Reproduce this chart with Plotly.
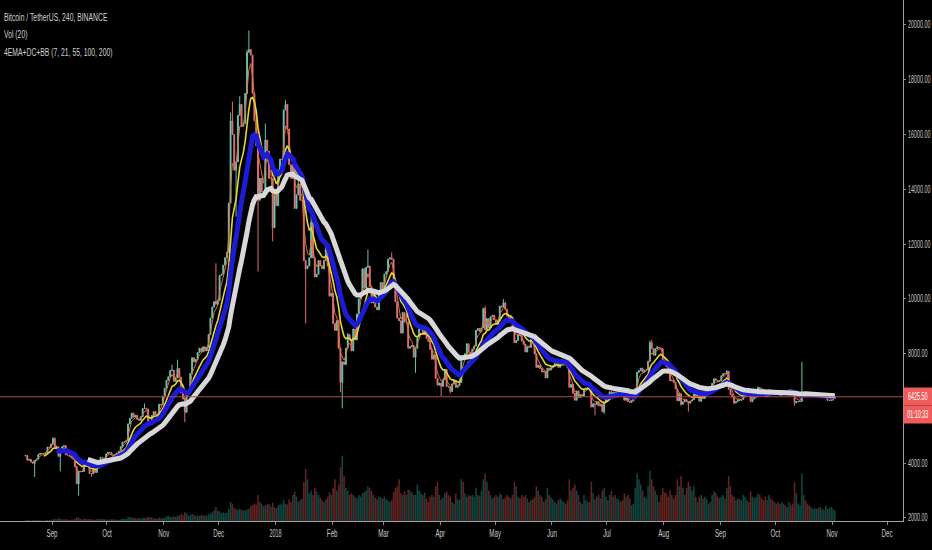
import numpy as np
import pandas as pd
import plotly.graph_objects as go

# ---------------- data (daily) ----------------
start_date = "2017-08-17"

close_2017_08 = [4285, 4108, 4140, 4040, 4000, 4100, 4150, 4320, 4360, 4350, 4340, 4390, 4590, 4580, 4700]
close_2017_09 = [4900, 4580, 4600, 4250, 4410, 4600, 4640, 4300, 4300, 4250, 4200, 4150, 3870, 3250, 3700,
                 3690, 3700, 4090, 3910, 3880, 3620, 3610, 3780, 3660, 3930, 3890, 4210, 4190, 4160, 4340]
close_2017_10 = [4400, 4380, 4300, 4220, 4330, 4370, 4440, 4610, 4770, 4780, 4820, 5430, 5640, 5830, 5680,
                 5750, 5600, 5570, 5700, 6000, 6010, 5980, 5530, 5500, 5740, 5890, 5770, 5740, 6150, 6130, 6450]
close_2017_11 = [6740, 7030, 7160, 7380, 7400, 6990, 7110, 7460, 7140, 6570, 6340, 5860, 6550, 6600, 7280,
                 7850, 7700, 7790, 8040, 8200, 8070, 8250, 8100, 8230, 8700, 9300, 9700, 9900, 9800, 9950]
close_2017_12 = [10850, 10900, 11230, 11500, 11700, 13500, 16500, 16000, 14700, 15000, 16700, 17100, 16300, 16400, 17500,
                 19000, 19100, 18900, 17500, 16500, 15600, 13600, 14400, 13900, 13900, 15800, 15400, 14400, 14400, 12600, 13900]
close_2018_01 = [13400, 14700, 15100, 15100, 16900, 17100, 16200, 14900, 14400, 14900, 13300, 13800, 14200, 13600, 13600,
                 11400, 11100, 11200, 11500, 12800, 11500, 10800, 10900, 11400, 11200, 11100, 11400, 11800, 11200, 10100, 10200]
close_2018_02 = [9100, 8850, 9200, 8200, 6950, 7700, 7600, 8200, 8700, 8500, 8100, 8900, 8500, 9450,
                 10000, 10200, 11100, 10400, 11150, 11200, 10450, 9850, 10150, 9700, 9600, 10300, 10600, 10300]
close_2018_03 = [10900, 11000, 11450, 11500, 11450, 10700, 9900, 9300, 9200, 8750, 9500, 9150, 9150, 8200, 8250,
                 8300, 7870, 8200, 8600, 8900, 8900, 8700, 8900, 8550, 8450, 8150, 7800, 7950, 7100, 6850, 6930]
close_2018_04 = [6810, 7050, 7420, 6800, 6780, 6620, 6900, 7030, 6770, 6830, 6940, 7920, 7890, 8000, 8360,
                 8060, 7890, 8170, 8280, 8850, 8920, 8800, 8940, 9650, 8870, 9280, 8940, 9350, 9400, 9240]
close_2018_05 = [9070, 9220, 9740, 9700, 9860, 9620, 9370, 9180, 9310, 9000, 8400, 8480, 8700, 8670, 8460,
                 8340, 8060, 8240, 8230, 8520, 8400, 7990, 7500, 7580, 7460, 7330, 7350, 7110, 7470, 7400, 7490]
close_2018_06 = [7530, 7640, 7710, 7500, 7630, 7650, 7680, 7620, 7490, 6770, 6880, 6550, 6300, 6640, 6400,
                 6490, 6450, 6710, 6740, 6760, 6720, 6050, 6170, 6150, 6250, 6090, 6150, 5880, 6220, 6390]
close_2018_07 = [6350, 6610, 6510, 6590, 6530, 6600, 6750, 6710, 6660, 6300, 6390, 6250, 6220, 6270, 6360,
                 6740, 7320, 7380, 7470, 7330, 7400, 7400, 7720, 8400, 8180, 7940, 8180, 8230, 8210, 8180, 7730]
close_2018_08 = [7600, 7530, 7410, 7010, 7030, 6940, 6720, 6280, 6540, 6150, 6240, 6320, 6250, 6190, 6270,
                 6310, 6580, 6390, 6490, 6260, 6480, 6360, 6530, 6700, 6720, 6700, 6920, 7080, 7030, 6990, 7010]
close_2018_09 = [7190, 7270, 7260, 7360, 6700, 6510, 6410, 6200, 6250, 6320, 6290, 6330, 6480, 6480, 6520,
                 6500, 6250, 6340, 6390, 6490, 6760, 6720, 6700, 6590, 6430, 6460, 6680, 6630, 6590, 6620]
close_2018_10 = [6590, 6520, 6480, 6580, 6640, 6590, 6620, 6680, 6650, 6590, 6200, 6250, 6250, 6260, 6580,
                 6600, 6580, 6500, 6460, 6460, 6490, 6490, 6500, 6480, 6480, 6480, 6480, 6480, 6290, 6290, 6300]
close_2018_11 = [6370, 6425.5]

first_open = 4261

wick_high = {
    "2017-09-01": 4940, "2017-09-02": 4950, "2017-10-12": 5450, "2017-10-21": 6180, "2017-11-05": 7600,
    "2017-11-08": 7780, "2017-11-29": 11300, "2017-12-07": 16800, "2017-12-08": 17200, "2017-12-12": 17400,
    "2017-12-16": 19100, "2017-12-17": 19800, "2017-12-18": 19100, "2017-12-19": 18900, "2017-12-26": 16400,
    "2018-01-06": 17250, "2018-01-07": 17100, "2018-01-13": 14600, "2018-01-20": 13000, "2018-01-28": 12000,
    "2018-02-09": 8750, "2018-02-20": 11800, "2018-03-05": 11700, "2018-03-13": 9450, "2018-03-20": 9050,
    "2018-04-25": 9750, "2018-05-05": 9990, "2018-06-06": 7800, "2018-07-24": 8480, "2018-07-25": 8500,
    "2018-07-28": 8280, "2018-08-01": 7750, "2018-09-04": 7400, "2018-09-21": 6800, "2018-10-15": 7700,
}
wick_low = {
    "2017-08-22": 3500, "2017-09-05": 3700, "2017-09-15": 2817, "2017-09-22": 3500, "2017-11-12": 5500,
    "2017-12-10": 13000, "2017-12-22": 11000, "2017-12-30": 12100, "2018-01-17": 9100, "2018-02-05": 6600,
    "2018-02-06": 6000, "2018-03-18": 7300, "2018-04-01": 6450, "2018-04-06": 6550, "2018-06-24": 5750,
    "2018-06-29": 5800, "2018-08-10": 6100, "2018-08-14": 5880, "2018-09-08": 6150, "2018-10-11": 6100,
}

vol_2017_08 = [0.8, 1.2, 0.9, 0.7, 1.0, 1.5, 1.1, 1.0, 0.9, 0.6, 0.7, 1.0, 1.4, 1.2, 1.5]
vol_2017_09 = [2.0, 2.5, 1.8, 3.0, 2.5, 2.0, 1.8, 2.6, 1.5, 1.4, 1.6, 1.8, 2.5, 4.5, 4.0, 2.5, 1.8, 2.8, 2.2, 1.9,
               2.4, 2.0, 1.5, 1.4, 2.2, 2.0, 2.6, 2.1, 2.0, 1.8]
vol_2017_10 = [1.7, 1.6, 1.9, 1.8, 1.7, 1.5, 1.4, 2.0, 2.8, 2.5, 2.4, 4.5, 5.0, 3.5, 4.0, 3.2, 3.0, 3.4, 2.8, 3.6,
               3.8, 3.5, 4.5, 4.2, 3.9, 3.1, 3.0, 2.6, 4.0, 3.2, 3.5]
vol_2017_11 = [4.0, 5.5, 6.0, 5.0, 4.5, 4.8, 4.6, 6.5, 6.0, 8.0, 7.0, 10.0, 9.0, 6.0, 7.0, 8.0, 7.0, 5.5, 6.5, 6.0,
               7.0, 6.0, 6.5, 6.0, 7.5, 9.0, 10.0, 12.0, 16.0, 12.0]
vol_2017_12 = [11, 9, 10, 9, 9.5, 14, 22, 20, 15, 14, 13, 14, 13, 12, 12.5, 13, 14, 17, 18, 20, 19, 30, 22, 20, 17,
               18, 19, 20, 17, 21, 16]
vol_2018_01 = [15, 18, 20, 19, 24, 20, 19, 25, 22, 30, 34, 28, 22, 24, 26, 45, 60, 48, 32, 35, 30, 38, 34, 30, 27,
               24, 22, 25, 28, 33, 30]
vol_2018_02 = [38, 48, 35, 42, 62, 75, 52, 38, 35, 30, 32, 30, 28, 26, 30, 28, 32, 33, 35, 40, 38, 35, 30, 27, 25,
               28, 27, 26]
vol_2018_03 = [28, 25, 24, 22, 24, 33, 38, 40, 48, 32, 30, 34, 30, 36, 35, 33, 30, 30, 42, 35, 32, 30, 33, 26, 22,
               28, 30, 28, 40, 45, 30]
vol_2018_04 = [25, 27, 32, 34, 30, 28, 22, 20, 32, 25, 24, 48, 45, 32, 28, 30, 29, 30, 28, 38, 30, 29, 35, 48, 55,
               45, 35, 30, 26, 28]
vol_2018_05 = [30, 28, 32, 30, 25, 27, 30, 28, 26, 30, 45, 40, 28, 26, 30, 28, 30, 26, 22, 24, 25, 28, 40, 35, 30,
               28, 22, 25, 38, 30, 27]
vol_2018_06 = [25, 22, 20, 24, 26, 24, 22, 20, 24, 48, 35, 38, 42, 35, 30, 22, 20, 30, 24, 22, 22, 45, 32, 25, 28,
               30, 26, 35, 38, 28]
vol_2018_07 = [24, 30, 35, 28, 30, 26, 25, 22, 24, 32, 28, 30, 26, 18, 20, 38, 55, 48, 42, 35, 28, 26, 40, 58, 48,
               40, 35, 30, 22, 30, 38]
vol_2018_08 = [33, 32, 28, 35, 30, 26, 30, 48, 40, 52, 38, 30, 38, 45, 40, 35, 40, 28, 22, 28, 30, 26, 28, 25, 20,
               22, 30, 34, 32, 28, 26]
vol_2018_09 = [28, 30, 26, 38, 52, 40, 30, 28, 24, 26, 25, 24, 30, 28, 24, 22, 34, 28, 26, 28, 32, 30, 26, 24, 28,
               24, 30, 26, 24, 22]
vol_2018_10 = [20, 22, 20, 22, 20, 18, 16, 22, 18, 20, 45, 32, 20, 18, 55, 30, 24, 20, 18, 16, 14, 15, 14, 15, 16,
               14, 13, 18, 14, 15, 16]
vol_2018_11 = [14, 12]

ema_lengths = [21, 55, 100, 200]          # on 240-minute bars
ema_colors = ["#e0703a", "#e8d630", "#1c1cd8", "#d8d8d8"]
ema_widths = [1, 1.6, 5, 5]

month_ticks = ["2017-09-01", "2017-10-01", "2017-11-01", "2017-12-01", "2018-01-01", "2018-02-01", "2018-03-01",
               "2018-04-01", "2018-05-01", "2018-06-01", "2018-07-01", "2018-08-01", "2018-09-01", "2018-10-01",
               "2018-11-01", "2018-12-01"]
month_labels = ["Sep", "Oct", "Nov", "Dec", "2018", "Feb", "Mar", "Apr", "May", "Jun", "Jul", "Aug", "Sep", "Oct",
                "Nov", "Dec"]
price_ticks = [2000, 4000, 8000, 10000, 12000, 14000, 16000, 18000, 20000]
last_price = 6425.50
countdown = "01:10:33"
legend_lines = ["Bitcoin / TetherUS, 240, BINANCE", "Vol (20)", "4EMA+DC+BB (7, 21, 55, 100, 200)"]

# ---------------- assemble ----------------
close = np.array(close_2017_08 + close_2017_09 + close_2017_10 + close_2017_11 + close_2017_12 + close_2018_01
                 + close_2018_02 + close_2018_03 + close_2018_04 + close_2018_05 + close_2018_06 + close_2018_07
                 + close_2018_08 + close_2018_09 + close_2018_10 + close_2018_11, dtype=float)
volume = np.array(vol_2017_08 + vol_2017_09 + vol_2017_10 + vol_2017_11 + vol_2017_12 + vol_2018_01 + vol_2018_02
                  + vol_2018_03 + vol_2018_04 + vol_2018_05 + vol_2018_06 + vol_2018_07 + vol_2018_08 + vol_2018_09
                  + vol_2018_10 + vol_2018_11, dtype=float)
days = pd.date_range(start_date, periods=len(close), freq="D")
x = days + pd.Timedelta(hours=12)
opn = np.concatenate([[first_open], close[:-1]])
high = np.maximum(opn, close)
low = np.minimum(opn, close)
keys = days.strftime("%Y-%m-%d")
for i, k in enumerate(keys):
    if k in wick_high:
        high[i] = max(high[i], wick_high[k])
    if k in wick_low:
        low[i] = min(low[i], wick_low[k])

s = pd.Series(close)
fig = go.Figure()

up = close >= opn
vol_colors = np.where(up, "rgba(38,166,154,0.42)", "rgba(239,83,80,0.42)")
fig.add_trace(go.Bar(x=x, y=volume, marker=dict(color=vol_colors, line=dict(width=0)), yaxis="y2",
                     showlegend=False, hoverinfo="skip"))

fig.add_trace(go.Candlestick(
    x=x, open=opn, high=high, low=low, close=close,
    increasing=dict(line=dict(color="#63c1ae", width=1), fillcolor="#a9ddd2"),
    decreasing=dict(line=dict(color="#e26d72", width=1), fillcolor="#f0a0a0"),
    whiskerwidth=0, showlegend=False))

for n, c, w in zip(ema_lengths, ema_colors, ema_widths):
    alpha = 1 - (1 - 2 / (n + 1)) ** 6
    e = s.ewm(alpha=alpha, adjust=False).mean().to_numpy()
    e[: int(np.ceil(n / 6))] = np.nan
    fig.add_trace(go.Scatter(x=x, y=e, mode="lines", line=dict(color=c, width=w), showlegend=False,
                             hoverinfo="skip"))

fig.add_shape(type="line", xref="paper", x0=0, x1=1, yref="y", y0=last_price, y1=last_price,
              line=dict(color="#b5484a", width=1))

axis_font = dict(family="Liberation Sans, Arial, sans-serif", size=10, color="#c8c8c8")

fig.add_annotation(xref="paper", x=1, xanchor="left", yref="y", y=last_price, yanchor="middle",
                   text="%.2f" % last_price, showarrow=False, font=dict(axis_font, color="#ffffff"),
                   bgcolor="#ef5a5a", borderpad=2, width=24, height=13)
fig.add_annotation(xref="paper", x=1, xanchor="left", yref="y", y=last_price, yanchor="middle",
                   text=countdown, showarrow=False, font=dict(axis_font, color="#ffffff"),
                   bgcolor="#ef5a5a", borderpad=2, width=24, height=13, yshift=-18)

for i, t in enumerate(legend_lines):
    fig.add_annotation(xref="paper", yref="paper", x=0.0022, y=1 - (18 + 17 * i) / 521, xanchor="left",
                       yanchor="middle", text=t, showarrow=False, align="left",
                       font=dict(family=axis_font["family"], size=10, color="#d0d0d0"))

fig.update_layout(
    width=932, height=550, margin=dict(l=0, r=29, t=0, b=29, autoexpand=False),
    paper_bgcolor="#000000", plot_bgcolor="#000000",
    bargap=0.15, showlegend=False,
    xaxis=dict(type="date", range=["2017-08-03 14:00", "2018-12-09 17:00"], rangeslider=dict(visible=False),
               tickvals=month_ticks, ticktext=month_labels, ticks="outside", ticklen=3, tickcolor="#8a8a8a",
               showgrid=False, zeroline=False, showline=True, linecolor="#a0a0a0", linewidth=1,
               tickfont=axis_font, automargin=False),
    yaxis=dict(side="right", range=[1890, 20912], tickvals=price_ticks,
               ticktext=["%.2f" % v for v in price_ticks], ticks="outside", ticklen=2, tickcolor="#8a8a8a",
               showgrid=False, zeroline=False, showline=True, linecolor="#a0a0a0", linewidth=1,
               tickfont=axis_font, automargin=False),
    yaxis2=dict(overlaying="y", range=[0, 600], visible=False, showgrid=False),
)

# condensed lettering like the screenshot: squeeze each text's advance width
post = """
document.body.style.margin = '0';
var gd = document.getElementById('{plot_id}');
gd.querySelectorAll('text').forEach(function (t) {
  var w = t.getComputedTextLength();
  if (w > 0) {
    var s = t.textContent;
    var f;
    if (s.indexOf('BINANCE') >= 0 || s.indexOf('Vol') >= 0 || s.indexOf('EMA') >= 0) { f = 0.68; }
    else if (/^[0-9:.]+$/.test(s)) { f = 0.54; }
    else { f = 0.62; }
    t.setAttribute('textLength', (w * f).toFixed(2));
    t.setAttribute('lengthAdjust', 'spacingAndGlyphs');
  }
});
"""
fig.write_html("out.html", post_script=post, config={"displayModeBar": False})
